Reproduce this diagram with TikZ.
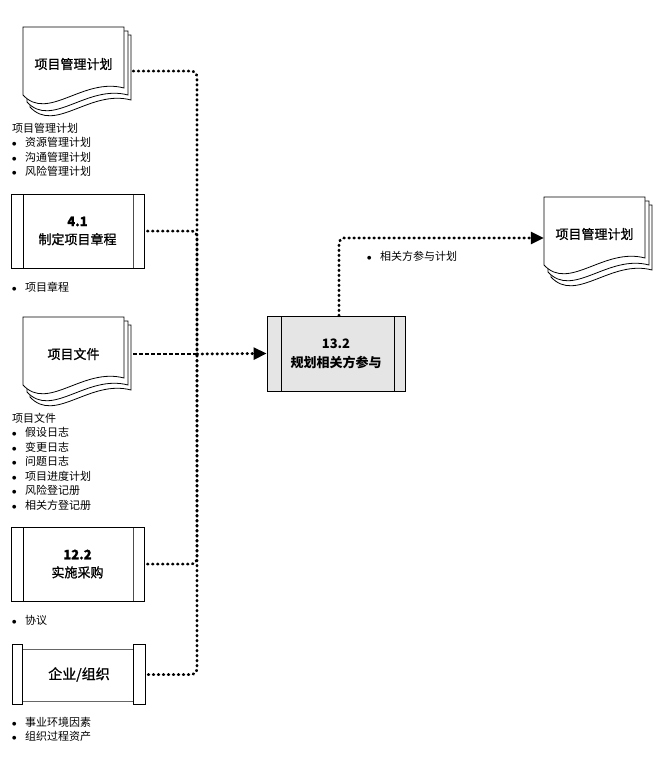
\documentclass[tikz,border=0pt]{standalone}
\usepackage{fontspec}
\setmainfont{Noto Sans CJK SC}
\newfontfamily\labelfont{Noto Sans CJK SC}[FakeBold=1]
\newfontfamily\symfont{DejaVu Sans}
\usetikzlibrary{arrows.meta}

\newcommand{\bul}{\makebox[13pt][l]{\raisebox{1pt}{\symfont\fontsize{5}{5}\selectfont ●}}}

% document stack: x, y of front page corner, name, label
\newcommand{\docstack}[4]{%
  \begin{scope}[shift={(#1,#2)}]
    \filldraw[docpage] (7,8) -- (108,8) -- (108,73) .. controls (67,62) and (32,107) .. (7,80) -- cycle;
    \filldraw[docpage] (4,4) -- (105,4) -- (105,68) .. controls (64,57) and (29,102) .. (4,75) -- cycle;
    \filldraw[docpage] (0,0) -- (101,0) -- (101,61) .. controls (60,50) and (25,95) .. (0,68) -- cycle;
    \node[doclabel] (#3) at (50.5,37) {#4};
  \end{scope}}

\tikzset{
  docpage/.style={draw, fill=white, line width=0.8pt},
  doclabel/.style={font=\labelfont\fontsize{13}{15}\selectfont, inner sep=0pt,
    minimum width=101pt, minimum height=60pt},
  procbox/.style={draw, line width=0.9pt, minimum width=133pt, minimum height=74pt,
    align=center, font=\labelfont\fontsize{13}{18}\selectfont,
    path picture={
      \draw[line width=0.9pt] ([xshift=12pt]path picture bounding box.north west)
        -- ([xshift=12pt]path picture bounding box.south west);
      \draw[line width=0.6pt, black!70] ([xshift=-11pt]path picture bounding box.north east)
        -- ([xshift=-11pt]path picture bounding box.south east);
    }},
  stakebox/.style={draw, line width=0.9pt, fill=black!10, minimum width=138pt,
    minimum height=75pt, align=center, font=\bfseries\fontsize{13}{19}\selectfont,
    path picture={
      \draw[line width=0.9pt] ([xshift=14pt]path picture bounding box.north west)
        -- ([xshift=14pt]path picture bounding box.south west);
      \draw[line width=0.9pt] ([xshift=-11pt]path picture bounding box.north east)
        -- ([xshift=-11pt]path picture bounding box.south east);
    }},
  orgbox/.style={minimum width=132pt, minimum height=59pt, inner sep=0pt,
    font=\labelfont\fontsize{14}{16}\selectfont},
  item/.style={anchor=west, inner sep=0pt, font=\fontsize{11}{13}\selectfont},
  trunk/.style={line width=2.9pt, dash pattern=on 0.6pt off 4.4pt, line cap=round,
    rounded corners=5pt},
  flow/.style={trunk, -{Triangle[length=13pt, width=12pt]}},
  dashflow/.style={line width=2.9pt, dash pattern=on 4pt off 2pt}
}

\begin{document}
\begin{tikzpicture}[x=1pt, y=-1pt]
  \useasboundingbox (0,0) rectangle (667,766);

  % inputs
  \docstack{23}{27}{plan}{项目管理计划}
  \node[item] (planhead) at (12,128) {项目管理计划};
  \foreach \txt [count=\i] in {资源管理计划, 沟通管理计划, 风险管理计划}
    \node[item] (planitem\i) at (12,128+14.5*\i) {\bul\txt};

  \node[procbox] (charter) at (77.5,231) {\textbf{4.1}\\制定项目章程};
  \node[item] (charteritem) at (12,287) {\bul 项目章程};

  \docstack{23}{317}{docs}{项目文件}
  \node[item] (docshead) at (12,418) {项目文件};
  \foreach \txt [count=\i] in {假设日志, 变更日志, 问题日志, 项目进度计划, 风险登记册, 相关方登记册}
    \node[item] (docsitem\i) at (12,418+14.5*\i) {\bul\txt};

  \node[procbox] (procure) at (77.5,564) {\textbf{12.2}\\实施采购};
  \node[item] (procureitem) at (12,620) {\bul 协议};

  \node[orgbox] (org) at (79,674.5) {企业/组织};
  \draw[line width=0.9pt] (org.north west) rectangle ([xshift=10pt]org.south west);
  \draw[line width=0.9pt] ([xshift=-12pt]org.north east) rectangle (org.south east);
  \draw[line width=0.6pt, black!60] ([xshift=10pt,yshift=-4pt]org.north west)
    -- ([xshift=-12pt,yshift=-4pt]org.north east);
  \draw[line width=0.6pt, black!60] ([xshift=10pt,yshift=3pt]org.south west)
    -- ([xshift=-12pt,yshift=3pt]org.south east);
  \node[item] (orgitem1) at (12,722) {\bul 事业环境因素};
  \node[item] (orgitem2) at (12,736) {\bul 组织过程资产};

  % process
  \node[stakebox] (stake) at (336,353.5) {13.2\\规划相关方参与};

  % output
  \docstack{544}{197}{outplan}{项目管理计划}
  \node[item] (outitem) at (367,256) {\bul 相关方参与计划};

  % connectors
  \coordinate (hub) at (197,354);
  \draw[trunk] ([xshift=9pt,yshift=-7pt]plan.east) -| (hub);
  \draw[trunk] ([xshift=3pt]charter.east) -| (hub);
  \draw[dashflow] ([xshift=9pt]docs.east) -- (hub);
  \draw[trunk] ([xshift=3pt]procure.east) -| (hub);
  \draw[trunk] ([xshift=3pt]org.east) -| (hub);
  \draw[flow] (hub) -- (stake.west);
  \draw[flow] ([xshift=3pt]stake.north) |- ([yshift=-4pt]outplan.west);
\end{tikzpicture}
\end{document}
